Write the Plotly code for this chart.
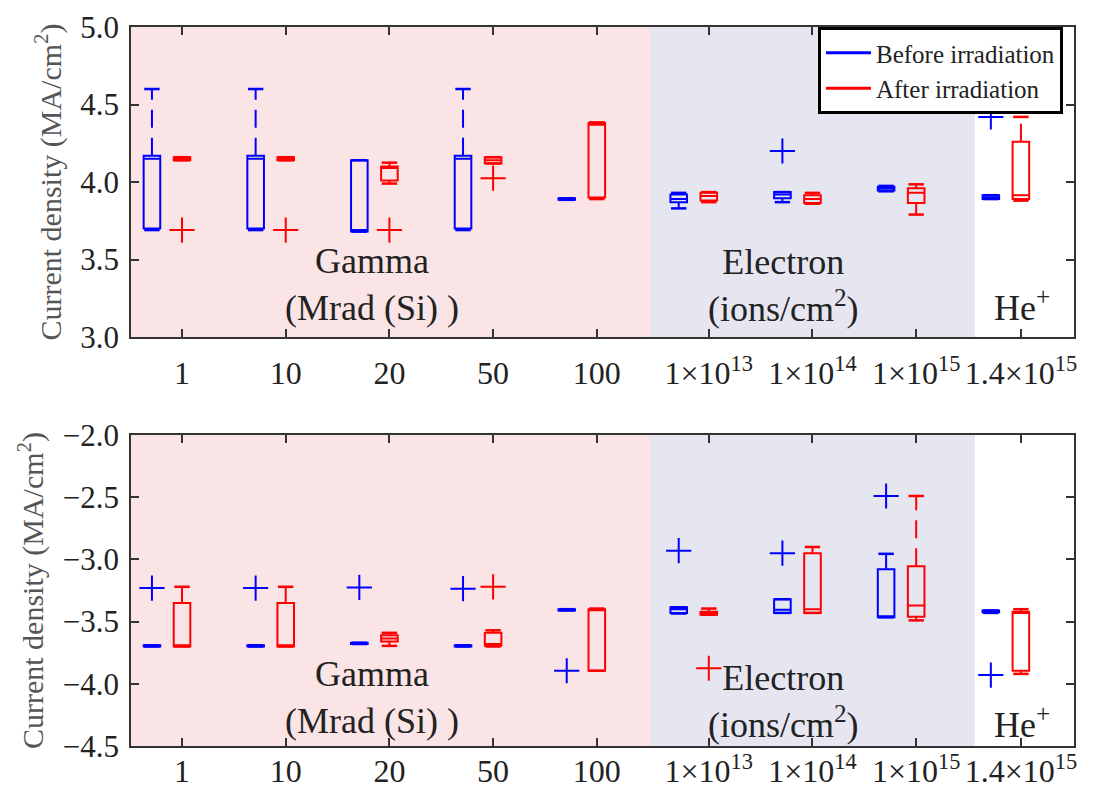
import plotly.graph_objects as go

# ---------------- data ----------------
categories = ["1", "10", "20", "50", "100",
              "1×10<sup>13</sup>", "1×10<sup>14</sup>", "1×10<sup>15</sup>", "1.4×10<sup>15</sup>"]

# Top panel (positive current density), before irradiation
top_before_lo  = [3.69, 3.69, 3.68, 3.69, 3.885, 3.83, 3.87, 3.94, 3.89]
top_before_q1  = [3.70, 3.70, 3.68, 3.70, 3.885, 3.87, 3.895, 3.945, 3.89]
top_before_med = [4.15, 4.15, 3.69, 4.15, 3.89, 3.89, 3.92, 3.96, 3.90]
top_before_q3  = [4.17, 4.17, 4.14, 4.17, 3.895, 3.92, 3.935, 3.97, 3.915]
top_before_hi  = [4.60, 4.60, 4.14, 4.60, 3.895, 3.93, 3.935, 3.975, 3.915]
top_before_out_cat = [7, 9]
top_before_out_val = [4.20, 4.42]

# Top panel, after irradiation
top_after_lo  = [4.14, 4.14, 3.99, 4.12, 3.89, 3.87, 3.86, 3.79, 3.88]
top_after_q1  = [4.14, 4.14, 4.01, 4.12, 3.90, 3.88, 3.865, 3.865, 3.89]
top_after_med = [4.15, 4.15, 4.09, 4.14, 4.37, 3.91, 3.89, 3.93, 3.915]
top_after_q3  = [4.16, 4.16, 4.10, 4.16, 4.38, 3.93, 3.915, 3.96, 4.26]
top_after_hi  = [4.16, 4.16, 4.125, 4.16, 4.385, 3.935, 3.93, 3.985, 4.42]
top_after_out_cat = [1, 2, 3, 4]
top_after_out_val = [3.69, 3.69, 3.69, 4.025]

# Bottom panel (negative current density), before irradiation
bot_before_lo  = [-3.70, -3.70, -3.68, -3.70, -3.41, -3.435, -3.43, -3.465, -3.43]
bot_before_q1  = [-3.70, -3.70, -3.68, -3.70, -3.41, -3.43, -3.43, -3.465, -3.425]
bot_before_med = [-3.695, -3.695, -3.675, -3.695, -3.405, -3.40, -3.405, -3.46, -3.42]
bot_before_q3  = [-3.69, -3.69, -3.67, -3.69, -3.40, -3.385, -3.32, -3.08, -3.41]
bot_before_hi  = [-3.69, -3.69, -3.67, -3.69, -3.40, -3.385, -3.32, -2.955, -3.41]
bot_before_out_cat = [1, 2, 3, 4, 5, 6, 7, 8, 9]
bot_before_out_val = [-3.23, -3.23, -3.225, -3.235, -3.895, -2.93, -2.95, -2.49, -3.93]

# Bottom panel, after irradiation
bot_after_lo  = [-3.70, -3.70, -3.695, -3.70, -3.895, -3.445, -3.43, -3.49, -3.92]
bot_after_q1  = [-3.70, -3.70, -3.66, -3.695, -3.895, -3.445, -3.43, -3.46, -3.895]
bot_after_med = [-3.69, -3.69, -3.635, -3.68, -3.40, -3.43, -3.40, -3.37, -3.43]
bot_after_q3  = [-3.35, -3.35, -3.61, -3.59, -3.40, -3.42, -2.95, -3.055, -3.42]
bot_after_hi  = [-3.22, -3.22, -3.59, -3.57, -3.395, -3.395, -2.90, -2.49, -3.40]
bot_after_out_cat = [4, 6]
bot_after_out_val = [-3.22, -3.875]

# ---------------- layout constants ----------------
cat_pos = [1, 2, 3, 4, 5, 6.08, 7.08, 8.08, 9.09]
BLUE_SHIFT = -0.29
BOX_W = 0.16
BLUE = "#0000FF"
RED = "#FF0000"
FONT = "Liberation Serif"
PINK = "#FAE4E6"
LAV = "#E6E6F0"

fig = go.Figure()


def add_series(xaxis, yaxis, shift, color, lo, q1, med, q3, hi, out_cat, out_val):
    xs = [p + shift for p in cat_pos]
    fig.add_trace(go.Box(
        x=xs, q1=q1, median=med, q3=q3, lowerfence=q1, upperfence=q3,
        width=BOX_W, whiskerwidth=0, boxpoints=False,
        line=dict(color=color, width=2), fillcolor="rgba(0,0,0,0)",
        xaxis=xaxis, yaxis=yaxis, showlegend=False, hoverinfo="skip"))
    # dashed whiskers
    wx, wy = [], []
    for x, a, b, c, d in zip(xs, q3, hi, q1, lo):
        if b > a:
            wx += [x, x, None]
            wy += [a, b, None]
        if d < c:
            wx += [x, x, None]
            wy += [c, d, None]
    if wx:
        fig.add_trace(go.Scatter(x=wx, y=wy, mode="lines",
                                 line=dict(color=color, width=2, dash="18px,10px"),
                                 xaxis=xaxis, yaxis=yaxis, showlegend=False, hoverinfo="skip"))
    # caps
    fig.add_trace(go.Scatter(x=xs + xs, y=list(hi) + list(lo), mode="markers",
                             marker=dict(symbol="line-ew", size=11,
                                         line=dict(color=color, width=2.5)),
                             xaxis=xaxis, yaxis=yaxis, showlegend=False, hoverinfo="skip"))
    # outliers
    ox = [cat_pos[c - 1] + shift for c in out_cat]
    fig.add_trace(go.Scatter(x=ox, y=out_val, mode="markers",
                             marker=dict(symbol="cross-thin", size=18,
                                         line=dict(color=color, width=2)),
                             xaxis=xaxis, yaxis=yaxis, showlegend=False, hoverinfo="skip"))


add_series("x", "y", BLUE_SHIFT, BLUE, top_before_lo, top_before_q1, top_before_med,
           top_before_q3, top_before_hi, top_before_out_cat, top_before_out_val)
add_series("x", "y", 0, RED, top_after_lo, top_after_q1, top_after_med,
           top_after_q3, top_after_hi, top_after_out_cat, top_after_out_val)
add_series("x2", "y2", BLUE_SHIFT, BLUE, bot_before_lo, bot_before_q1, bot_before_med,
           bot_before_q3, bot_before_hi, bot_before_out_cat, bot_before_out_val)
add_series("x2", "y2", 0, RED, bot_after_lo, bot_after_q1, bot_after_med,
           bot_after_q3, bot_after_hi, bot_after_out_cat, bot_after_out_val)

# legend entries
fig.add_trace(go.Scatter(x=[None], y=[None], mode="lines", name="Before irradiation",
                         line=dict(color=BLUE, width=3)))
fig.add_trace(go.Scatter(x=[None], y=[None], mode="lines", name="After irradiation",
                         line=dict(color=RED, width=3)))

# background regions
GAMMA_END = 5.513
ELEC_END = 8.647
X_RANGE = [0.508, 9.602]
for xr, yr in (("x", "y domain"), ("x2", "y2 domain")):
    fig.add_shape(type="rect", xref=xr, yref=yr, x0=X_RANGE[0], x1=GAMMA_END, y0=0, y1=1,
                  fillcolor=PINK, line_width=0, layer="below")
    fig.add_shape(type="rect", xref=xr, yref=yr, x0=GAMMA_END, x1=ELEC_END, y0=0, y1=1,
                  fillcolor=LAV, line_width=0, layer="below")

# region labels
ann_font = dict(family=FONT, size=36, color="#222222")
for xr, yr, yg, ye, yh in (("x", "y", 3.339, 3.33, 3.206), ("x2", "y2", -4.110, -4.142, -4.315)):
    fig.add_annotation(x=2.83, y=yg, xref=xr, yref=yr, text="Gamma<br>(Mrad (Si) )",
                       showarrow=False, font=ann_font, align="center")
    fig.add_annotation(x=6.80, y=ye, xref=xr, yref=yr, text="Electron<br>(ions/cm<sup>2</sup>)",
                       showarrow=False, font=ann_font, align="center")
    fig.add_annotation(x=9.10, y=yh, xref=xr, yref=yr, text="He<sup>+</sup>",
                       showarrow=False, font=ann_font, align="center")

axis_common = dict(showline=True, linecolor="#333333", linewidth=1.5, mirror="ticks",
                   ticks="inside", ticklen=8, tickwidth=1.5, tickcolor="#333333",
                   showgrid=False, zeroline=False)

xcommon = dict(axis_common, range=X_RANGE, tickmode="array", tickvals=cat_pos,
               ticktext=categories, tickangle=0, automargin=False,
               tickfont=dict(family=FONT, size=32, color="#222222"))
ycommon = dict(axis_common, dtick=0.5, tickformat=".1f", automargin=False,
               tickfont=dict(family=FONT, size=31, color="#222222"),
               ticklabelstandoff=4)
ytitle = dict(text="Current density (MA/cm<sup>2</sup>)",
              font=dict(family=FONT, size=30, color="#555555"), standoff=10)

fig.update_layout(
    width=1119, height=788,
    margin=dict(l=131, r=45, t=27, b=42, autoexpand=False),
    plot_bgcolor="white", paper_bgcolor="white",
    boxmode="overlay",
    xaxis=dict(xcommon, anchor="y", ticklabelstandoff=7),
    yaxis=dict(ycommon, range=[3.0, 5.0], domain=[0.5688, 1.0], anchor="x", title=ytitle),
    xaxis2=dict(xcommon, anchor="y2", ticklabelstandoff=-4),
    yaxis2=dict(ycommon, range=[-4.5, -2.0], domain=[0.0, 0.4325], anchor="x2", title=ytitle),
    legend=dict(x=0.7285, y=1.0, xanchor="left", yanchor="top",
                bgcolor="white", bordercolor="black", borderwidth=3,
                font=dict(family=FONT, size=25, color="#222222"),
                itemwidth=45, tracegroupgap=0),
    showlegend=True,
)

fig.write_html("out.html")
